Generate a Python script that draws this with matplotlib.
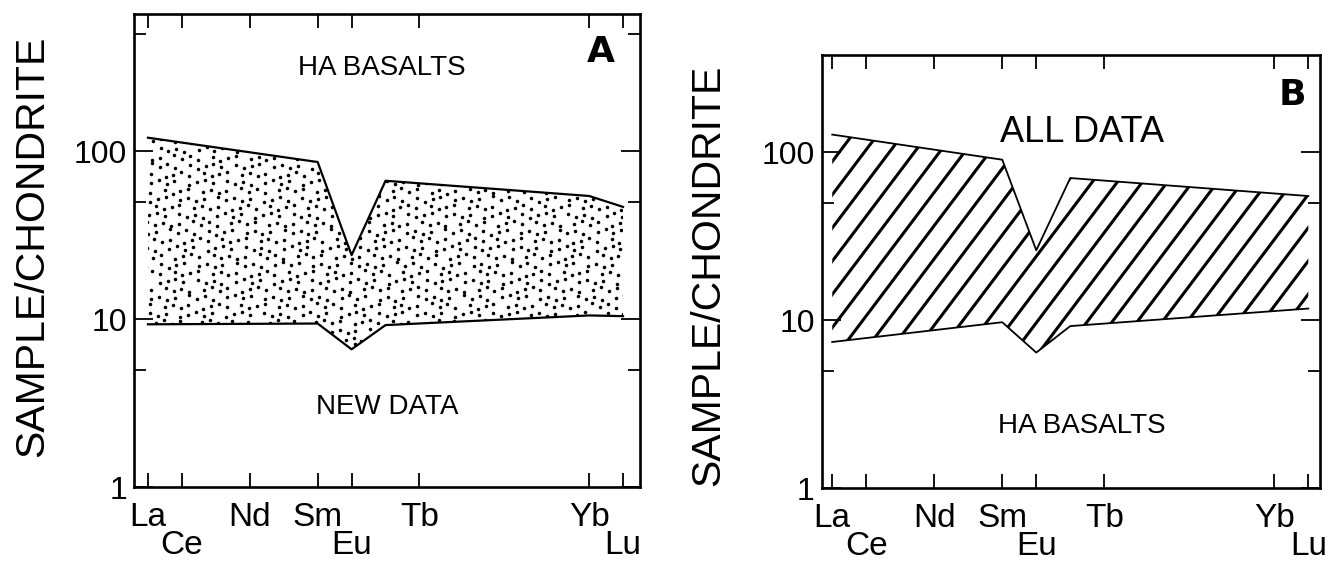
import numpy as np
import matplotlib
matplotlib.use('Agg')
import matplotlib.pyplot as plt
from matplotlib.collections import LineCollection
from matplotlib.ticker import FixedLocator, FixedFormatter, NullFormatter

plt.rcParams['font.family'] = ['Liberation Sans', 'DejaVu Sans']

# ---------------- data ----------------
ree_labels = ['La', 'Ce', 'Nd', 'Sm', 'Eu', 'Tb', 'Yb', 'Lu']
ree_z = [57, 58, 60, 62, 63, 65, 70, 71]
ree_row2 = ['Ce', 'Eu', 'Lu']

y_major = [1, 10, 100]
y_major_labels = ['1', '10', '100']
y_minor = [5, 50, 500]

# Panel A (vertices at La, Sm, Eu, Gd, Yb, Lu)
a_z = [57, 62, 63, 64, 70, 71]
a_upper = [120, 86, 24, 66.5, 54, 46.5]
a_lower = [9.3, 9.4, 6.6, 9.2, 10.5, 10.4]

# Panel B (vertices at La, Sm, Eu, Gd, Lu)
b_z = [57, 62, 63, 64, 71]
b_upper = [127, 90, 26, 70, 54.7]
b_lower = [7.4, 9.7, 6.4, 9.2, 11.7]

# ---------------- figure ----------------
fig = plt.figure(figsize=(13.31, 5.64), dpi=100)
axA = fig.add_axes([0.10090, 0.13652, 0.37994, 0.83865])
axB = fig.add_axes([0.61735, 0.13475, 0.37438, 0.76773])

PAD1 = 11.0
PAD2 = 31.0


def style_axes(ax, xlim, ylim, label_x, label_y):
    ax.set_yscale('log')
    ax.set_xlim(*xlim)
    ax.set_ylim(*ylim)
    for s in ax.spines.values():
        s.set_linewidth(1.9)
    ax.xaxis.set_major_locator(FixedLocator(ree_z))
    ax.xaxis.set_major_formatter(FixedFormatter(ree_labels))
    ax.xaxis.set_minor_locator(FixedLocator([]))
    ax.yaxis.set_major_locator(FixedLocator(y_major))
    ax.yaxis.set_major_formatter(FixedFormatter(y_major_labels))
    ax.yaxis.set_minor_locator(FixedLocator(y_minor))
    ax.yaxis.set_minor_formatter(NullFormatter())
    ax.tick_params(axis='x', which='major', direction='in', top=True, bottom=True,
                   length=10, width=1.3, labelsize=24, pad=PAD1)
    ax.tick_params(axis='y', which='major', direction='in', left=True, right=True,
                   length=14, width=1.3, labelsize=23, pad=5)
    ax.tick_params(axis='y', which='minor', direction='in', left=True, right=True,
                   length=8.5, width=1.3)
    for tick, lab in zip(ax.xaxis.get_major_ticks(), ree_labels):
        if lab in ree_row2:
            tick.set_pad(PAD2)
    ax.set_ylabel('SAMPLE/CHONDRITE', fontsize=29.5, va='center')
    ax.yaxis.set_label_coords(label_x, label_y)


style_axes(axA, (56.596, 71.5), (1, 654), -0.2013, 0.508)
style_axes(axB, (56.69, 71.344), (1, 378), -0.2272, 0.4905)


def clip_of(ax, poly):
    return poly.get_paths()[0], ax.transData


def stipple(ax, poly, spacing=9.5, size=6.5):
    W, H = ax.bbox.width, ax.bbox.height
    pts = []
    dy = spacing * 0.866
    nrows = int(H / dy) + 2
    ncols = int(W / spacing) + 2
    for j in range(nrows):
        for i in range(ncols):
            jx = (((i * 0.7548776662 + j * 0.5698402910) % 1.0) - 0.5) * spacing * 0.7
            jy = (((i * 0.4142135624 + j * 0.7320508076) % 1.0) - 0.5) * dy * 0.7
            u = i * spacing + (spacing / 2 if j % 2 else 0) + jx
            v = j * dy + jy
            pts.append((u / W, v / H))
    pts = np.array(pts)
    sc = ax.scatter(pts[:, 0], pts[:, 1], s=size, c='black', marker='o',
                    linewidths=0, transform=ax.transAxes, zorder=2)
    sc.set_clip_path(*clip_of(ax, poly))


def hatch(ax, poly, spacing=20.0, angle=53.0, lw=2.2, phase=6.0):
    W, H = ax.bbox.width, ax.bbox.height
    th = np.deg2rad(angle)
    d = np.array([np.cos(th), np.sin(th)])
    n = np.array([-np.sin(th), np.cos(th)])
    L = W + H
    segs = []
    for c in np.arange(-W * np.sin(th) + phase, H * np.cos(th), spacing):
        p0 = c * n - L * d
        p1 = c * n + L * d
        segs.append([(p0[0] / W, p0[1] / H), (p1[0] / W, p1[1] / H)])
    lc = LineCollection(segs, colors='black', linewidths=lw,
                        transform=ax.transAxes, zorder=2, capstyle='butt')
    ax.add_collection(lc)
    lc.set_clip_path(*clip_of(ax, poly))


# Panel A: stippled field
polyA = axA.fill_between(a_z, a_lower, a_upper, facecolor='none', edgecolor='none')
stipple(axA, polyA)
axA.plot(a_z, a_upper, color='black', lw=1.6, zorder=3)
axA.plot(a_z, a_lower, color='black', lw=1.6, zorder=3)

# Panel B: hatched field
polyB = axB.fill_between(b_z, b_lower, b_upper, facecolor='none', edgecolor='none')
hatch(axB, polyB)
axB.plot(b_z, b_upper, color='black', lw=1.3, zorder=3)
axB.plot(b_z, b_lower, color='black', lw=1.3, zorder=3)

# Annotations
axA.text(0.4898, 0.871, 'HA BASALTS', transform=axA.transAxes, ha='center',
         va='baseline', fontsize=20)
axA.text(0.4993, 0.1535, 'NEW DATA', transform=axA.transAxes, ha='center',
         va='baseline', fontsize=20)
axA.text(0.922, 0.8975, 'A', transform=axA.transAxes, ha='center', va='baseline',
         fontsize=26, fontweight='heavy', family='DejaVu Sans')

axB.text(0.5224, 0.800, 'ALL DATA', transform=axB.transAxes, ha='center',
         va='baseline', fontsize=26)
axB.text(0.5224, 0.127, 'HA BASALTS', transform=axB.transAxes, ha='center',
         va='baseline', fontsize=20)
axB.text(0.944, 0.8836, 'B', transform=axB.transAxes, ha='center', va='baseline',
         fontsize=26, fontweight='heavy', family='DejaVu Sans')

fig.savefig('out.png', dpi=100, facecolor='white')
